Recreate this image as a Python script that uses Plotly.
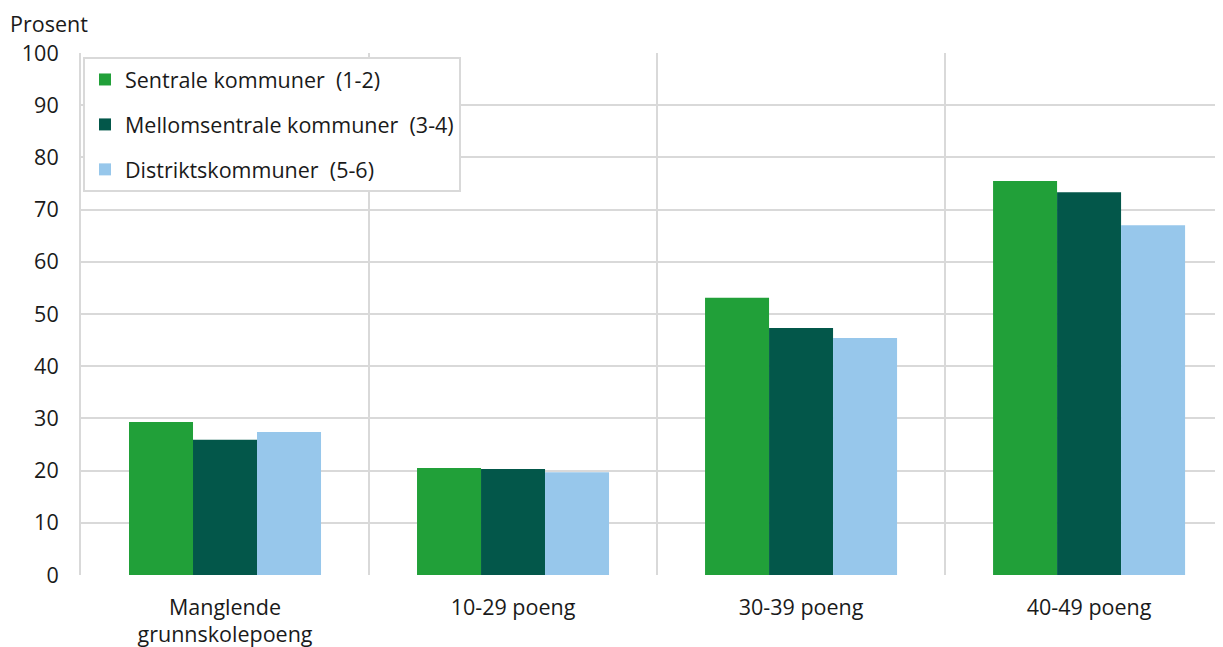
import plotly.graph_objects as go

categories = ["Manglende<br>grunnskolepoeng", "10-29 poeng", "30-39 poeng", "40-49 poeng"]
series_names = ["Sentrale kommuner  (1-2)", "Mellomsentrale kommuner  (3-4)", "Distriktskommuner  (5-6)"]
sentrale = [29.3, 20.5, 53.1, 75.5]
mellomsentrale = [25.9, 20.3, 47.3, 73.3]
distrikt = [27.4, 19.7, 45.4, 67.0]
colors = ["#21A039", "#03574A", "#97C7EB"]
y_ticks = list(range(0, 101, 10))

FONT = "Open Sans, Noto Sans, sans-serif"
FS = 21.5
# page body has an 8px margin; figure sized so the plot lands where the reference has it
W, H = 1215, 639
L, T, B = 73, 45, 72
PW, PH = W - L, H - T - B

fig = go.Figure()
for i, (name, vals) in enumerate(zip(series_names, [sentrale, mellomsentrale, distrikt])):
    fig.add_trace(go.Bar(x=categories, y=vals, name=name, marker_color=colors[i],
                         marker_line_width=0, legendgroup=f"g{i}"))

fig.update_layout(
    width=W, height=H,
    margin=dict(l=L, r=0, t=T, b=B, autoexpand=False),
    plot_bgcolor="white", paper_bgcolor="white",
    barmode="group", bargap=1/3, bargroupgap=0,
    font=dict(family=FONT, size=FS, color="#1a1a1a"),
    showlegend=True,
    legend=dict(x=2/PW, y=1 - 4/PH, xanchor="left", yanchor="top",
                bgcolor="white", bordercolor="#d9d9d9", borderwidth=2,
                font=dict(size=FS), tracegroupgap=14, traceorder="grouped"),
    xaxis=dict(range=[-0.5, 3.465], tickson="boundaries", showgrid=True,
               gridcolor="#d9d9d9", gridwidth=2, showline=False, ticks="",
               tickfont=dict(size=FS), zeroline=False, automargin=False,
               ticklabelstandoff=17),
    yaxis=dict(range=[0, 100], tickvals=y_ticks, showgrid=True, gridcolor="#d9d9d9",
               gridwidth=2, zeroline=False, showline=True, linecolor="#d9d9d9",
               linewidth=2, ticks="", ticklabelstandoff=16, tickfont=dict(size=FS),
               automargin=False),
    annotations=[dict(text="Prosent", x=(1 - L) / PW, y=(H - B) / PH,
                      xref="paper", yref="paper", xanchor="left", yanchor="top",
                      borderpad=0, showarrow=False, font=dict(size=FS))],
)
fig.write_html("out.html")
